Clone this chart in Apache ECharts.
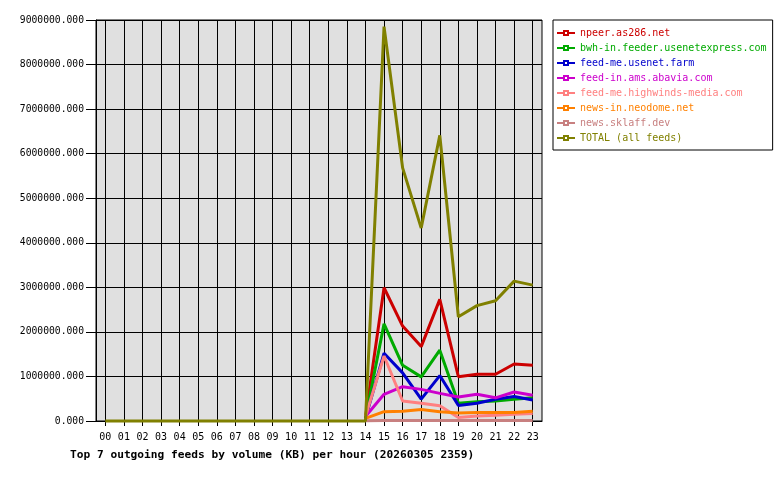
<!DOCTYPE html>
<html>
<head>
<meta charset="utf-8">
<script src="https://cdn.jsdelivr.net/npm/echarts@6/dist/echarts.min.js"></script>
<style>
html,body{margin:0;padding:0;background:#fff;}
#c{width:780px;height:480px;}
</style>
</head>
<body>
<div id="c"></div>
<script>
var hours = ["00","01","02","03","04","05","06","07","08","09","10","11","12","13","14","15","16","17","18","19","20","21","22","23"];
var yTicks = [0,1000000,2000000,3000000,4000000,5000000,6000000,7000000,8000000,9000000];
var titleText = "Top 7 outgoing feeds by volume (KB) per hour (20260305 2359)";

var seriesNames = ["npeer.as286.net","bwh-in.feeder.usenetexpress.com","feed-me.usenet.farm","feed-in.ams.abavia.com","feed-me.highwinds-media.com","news-in.neodome.net","news.sklaff.dev","TOTAL (all feeds)"];
var seriesColors = ["#cc0000","#00aa00","#0000cc","#cc00cc","#ff8080","#ff8000","#c88080","#808000"];

// per-feed values (KB); feeds have no traffic before 14:00
var npeer    = [null,null,null,null,null,null,null,null,null,null,null,null,null,null,80000,2990000,2130000,1670000,2730000,995000,1050000,1050000,1280000,1250000];
var bwh      = [null,null,null,null,null,null,null,null,null,null,null,null,null,null,60000,2180000,1250000,990000,1590000,400000,430000,450000,490000,520000];
var usenetf  = [null,null,null,null,null,null,null,null,null,null,null,null,null,null,60000,1520000,1080000,490000,1020000,350000,400000,490000,550000,470000];
var abavia   = [null,null,null,null,null,null,null,null,null,null,null,null,null,null,100000,600000,770000,710000,620000,540000,600000,520000,650000,580000];
var highwind = [null,null,null,null,null,null,null,null,null,null,null,null,null,null,100000,1460000,450000,400000,340000,80000,110000,130000,150000,170000];
var neodome  = [null,null,null,null,null,null,null,null,null,null,null,null,null,null,60000,210000,220000,260000,210000,180000,190000,190000,190000,220000];
var sklaff   = [null,null,null,null,null,null,null,null,null,null,null,null,null,null,5000,10000,10000,10000,10000,10000,10000,10000,10000,10000];
var total    = [0,0,0,0,0,0,0,0,0,0,0,0,0,0,0,8850000,5680000,4330000,6410000,2340000,2590000,2700000,3140000,3050000];

var allData = [npeer,bwh,usenetf,abavia,highwind,neodome,sklaff,total];
var FONT = "DejaVu Sans Mono";

var series = seriesNames.map(function(n,i){
  return {
    name:n, type:'line', data:allData[i],
    showSymbol:false, symbol:'emptyRect', symbolSize:[6,4],
    lineStyle:{width:3,color:seriesColors[i]},
    itemStyle:{color:seriesColors[i], borderColor:seriesColors[i], borderWidth:1},
    color:seriesColors[i],
    smooth:false, animation:false,
    clip:false
  };
});

var chart = echarts.init(document.getElementById('c'), null, {renderer:'canvas'});
chart.setOption({
  animation:false,
  backgroundColor:'#ffffff',
  title:{
    text:titleText, left:65, top:445,
    textStyle:{fontFamily:FONT,fontSize:11.2,fontWeight:'bold',color:'#000'}
  },
  legend:{
    orient:'vertical', left:553, top:20,
    padding:[8,6,7,3],
    borderColor:'#000', borderWidth:1,
    itemWidth:18, itemHeight:5, itemGap:5,
    textStyle:{fontFamily:FONT,fontSize:10,lineHeight:10},
    data: seriesNames.map(function(n,i){return {name:n, textStyle:{color:seriesColors[i]}};})
  },
  grid:{left:96, top:20, width:446, height:401, show:true, backgroundColor:'#e0e0e0', borderColor:'#000', borderWidth:1},
  xAxis:{
    type:'category', data:hours, boundaryGap:true,
    axisLine:{show:true,lineStyle:{color:'#000',width:1}},
    axisTick:{show:true, alignWithLabel:true, length:5, lineStyle:{color:'#000'}},
    axisLabel:{fontFamily:FONT,fontSize:10,color:'#000',margin:11, interval:0},
    splitLine:{show:true, alignWithLabel:true, lineStyle:{color:'#000',width:1}}
  },
  yAxis:{
    type:'value', min:yTicks[0], max:yTicks[yTicks.length-1], interval:yTicks[1]-yTicks[0],
    axisLine:{show:true,lineStyle:{color:'#000',width:1}},
    axisTick:{show:true,length:10,lineStyle:{color:'#000'}},
    axisLabel:{fontFamily:FONT,fontSize:9.7,color:'#000',margin:12,
      formatter:function(v){return v.toFixed(3);}},
    splitLine:{show:true,lineStyle:{color:'#000',width:1}}
  },
  series:series
});
</script>
</body>
</html>
